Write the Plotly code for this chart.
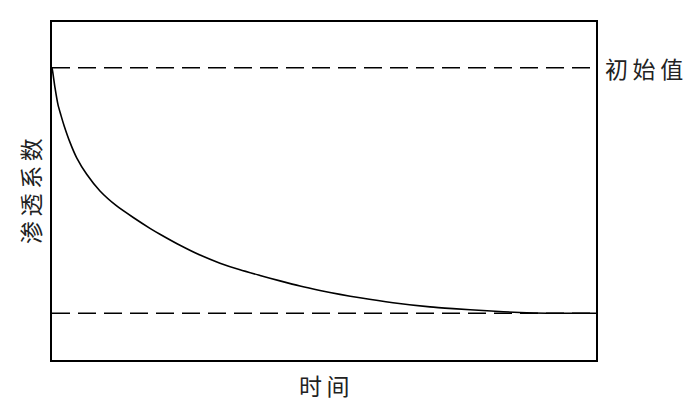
import plotly.graph_objects as go

# Curve values (time in % of span, normalized permeability)
time_vals = [0, 0.18, 0.55, 1.10, 1.65, 2.21, 3.31, 4.54, 6.38, 8.82, 11.89, 14.94, 18.01,
             19.85, 23.53, 27.21, 30.88, 34.56, 38.24, 41.91, 45.59, 49.26, 52.94, 56.62,
             62.68, 69.49, 73.71, 79.96, 86.03, 90.99, 95.22, 100]
perm_vals = [1.0, 0.976, 0.919, 0.850, 0.806, 0.765, 0.696, 0.633, 0.566, 0.498, 0.437, 0.390, 0.346,
             0.322, 0.277, 0.237, 0.204, 0.177, 0.154, 0.132, 0.111, 0.093, 0.077, 0.063,
             0.043, 0.026, 0.019, 0.010, 0.003, 0.0, 0.0, 0.0]
initial_value = 1.0
final_value = 0.0
x_title = "时间"
y_title = "渗透系数"
init_label = "初始值"

font_family = "Noto Sans CJK SC"
sp = "\u2009"

fig = go.Figure()
fig.add_trace(go.Scatter(x=time_vals, y=perm_vals, mode="lines",
                         line=dict(color="black", width=1.6, shape="spline", smoothing=0.6),
                         hoverinfo="skip", showlegend=False))
for v in (initial_value, final_value):
    fig.add_trace(go.Scatter(x=[0, 100], y=[v, v], mode="lines",
                             line=dict(color="black", width=1.5, dash="18px,8px"),
                             hoverinfo="skip", showlegend=False))

txt_font = dict(family=font_family, size=23, color="#222")
fig.add_annotation(x=1, xref="paper", xanchor="left", xshift=7, y=initial_value, yref="y",
                   text=sp.join(init_label), showarrow=False, font=txt_font)
fig.add_annotation(x=0, xref="paper", xanchor="center", xshift=-22, y=0.5, yref="paper",
                   text=sp.join(y_title), textangle=-90, showarrow=False, font=txt_font)
fig.add_annotation(x=0.5, xref="paper", y=0, yref="paper", yanchor="top", yshift=-6,
                   text=sp.join(x_title), showarrow=False, font=txt_font)

axis_common = dict(showgrid=False, zeroline=False, showticklabels=False, ticks="",
                   showline=True, linecolor="black", linewidth=1.6, mirror=True)
fig.update_xaxes(range=[0, 100], **axis_common)
fig.update_yaxes(range=[(final_value - initial_value) * 47 / 247, (initial_value - final_value) * 293 / 247],
                 **axis_common)
# page body has an 8px margin, so the figure is 8px smaller on each axis
fig.update_layout(width=692, height=394, margin=dict(l=44, r=104, t=12, b=42),
                  plot_bgcolor="white", paper_bgcolor="white")

fig.write_html("out.html")
